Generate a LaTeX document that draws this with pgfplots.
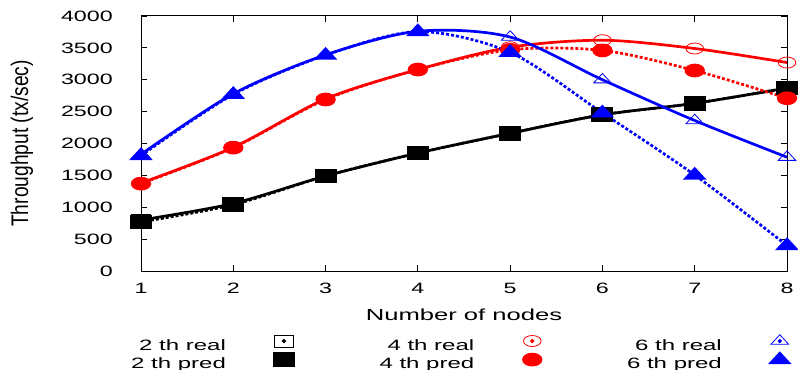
\documentclass[border=0pt]{standalone}
\usepackage{fontspec}
\setmainfont{Liberation Sans}
\usepackage{pgfplots}
\pgfplotsset{compat=1.18}
\newcommand{\sx}[1]{\scalebox{1.6}[1]{#1}}
\newcommand{\tf}{\fontsize{15}{17}\selectfont}
\begin{document}
\begin{tikzpicture}
\begin{axis}[
  scale only axis, width=646pt, height=255pt,
  xmin=1, xmax=8, ymin=0, ymax=4000,
  xtick={1,...,8}, ytick={0,500,...,4000},
  tick align=inside, tick pos=both, major tick length=6pt,
  axis line style={line width=1pt},
  every tick/.style={black, line width=0.8pt},
  clip=false,
  /pgf/number format/assume math mode=true,
  /pgf/number format/1000 sep={},
  tick label style={font=\tf, xscale=1.55},
  xticklabel style={anchor=north, inner sep=0pt, yshift=-12pt},
  yticklabel style={anchor=east, inner sep=0pt, xshift=-18pt},
  xlabel={\sx{Number of nodes}},
  ylabel={\scalebox{1.2}[1.5]{Throughput (tx/sec)}},
  every axis x label/.style={at={([yshift=-43.5pt]axis description cs:0.5,0)}, anchor=center, font=\fontsize{16}{18}\selectfont},
  every axis y label/.style={at={([xshift=-119pt]axis description cs:0,0.5)}, anchor=center, rotate=90, font=\fontsize{16}{18}\selectfont},
  legend plot pos=right,
  legend image code/.code={\path[draw=none, fill=none] (0pt,0pt) -- (66pt,0pt); \draw[#1, only marks] plot coordinates {(58pt,5.3pt)}; \fill[#1, solid] (58pt,5.3pt) circle[radius=0.4pt];},
  legend style={at={(0,0)}, anchor=north west, xshift=-10pt, yshift=-63.5pt,
    draw=none, fill=none, inner sep=0pt, legend columns=2, transpose legend,
    legend cell align=right, row sep=0pt, font=\tf,
    nodes={inner sep=0pt, text height=11pt, text depth=3pt},
    /tikz/every even column/.append style={column sep=86pt}},
  real/.style={smooth, line width=2.7pt, mark options={solid, line width=0.8pt, xscale=1.6}},
  pred/.style={smooth, line width=2.7pt, dash pattern=on 3pt off 2pt, mark options={solid, xscale=1.6}},
]
\addplot[real, black, mark=square, mark size=6pt] coordinates {(1,800) (2,1060) (3,1490) (4,1850) (5,2160) (6,2450) (7,2630) (8,2870)};
\addlegendentry{\sx{2 th real}}
\addplot[pred, black, mark=square*, mark size=6pt] coordinates {(1,770) (2,1040) (3,1490) (4,1850) (5,2160) (6,2450) (7,2630) (8,2870)};
\addlegendentry{\sx{2 th pred}}
\addplot[real, red, mark=o, mark size=5.5pt] coordinates {(1,1380) (2,1940) (3,2700) (4,3160) (5,3510) (6,3620) (7,3490) (8,3270)};
\addlegendentry{\sx{4 th real}}
\addplot[pred, red, mark=*, mark size=5.5pt] coordinates {(1,1370) (2,1935) (3,2690) (4,3160) (5,3470) (6,3460) (7,3145) (8,2710)};
\addlegendentry{\sx{4 th pred}}
\addplot[real, blue, mark=triangle, mark size=6.3pt] coordinates {(1,1830) (2,2780) (3,3390) (4,3760) (5,3670) (6,3000) (7,2360) (8,1785)};
\addlegendentry{\sx{6 th real}}
\addplot[pred, blue, mark=triangle*, mark size=6.3pt] coordinates {(1,1810) (2,2770) (3,3385) (4,3755) (5,3430) (6,2480) (7,1505) (8,400)};
\addlegendentry{\sx{6 th pred}}
\coordinate (bl) at (rel axis cs:0,0);
\coordinate (tr) at (rel axis cs:1,1);
\end{axis}
\pgfresetboundingbox
\path[use as bounding box] ([xshift=-141pt,yshift=-98pt]bl) rectangle ([xshift=11pt,yshift=16pt]tr);
\end{tikzpicture}
\end{document}
